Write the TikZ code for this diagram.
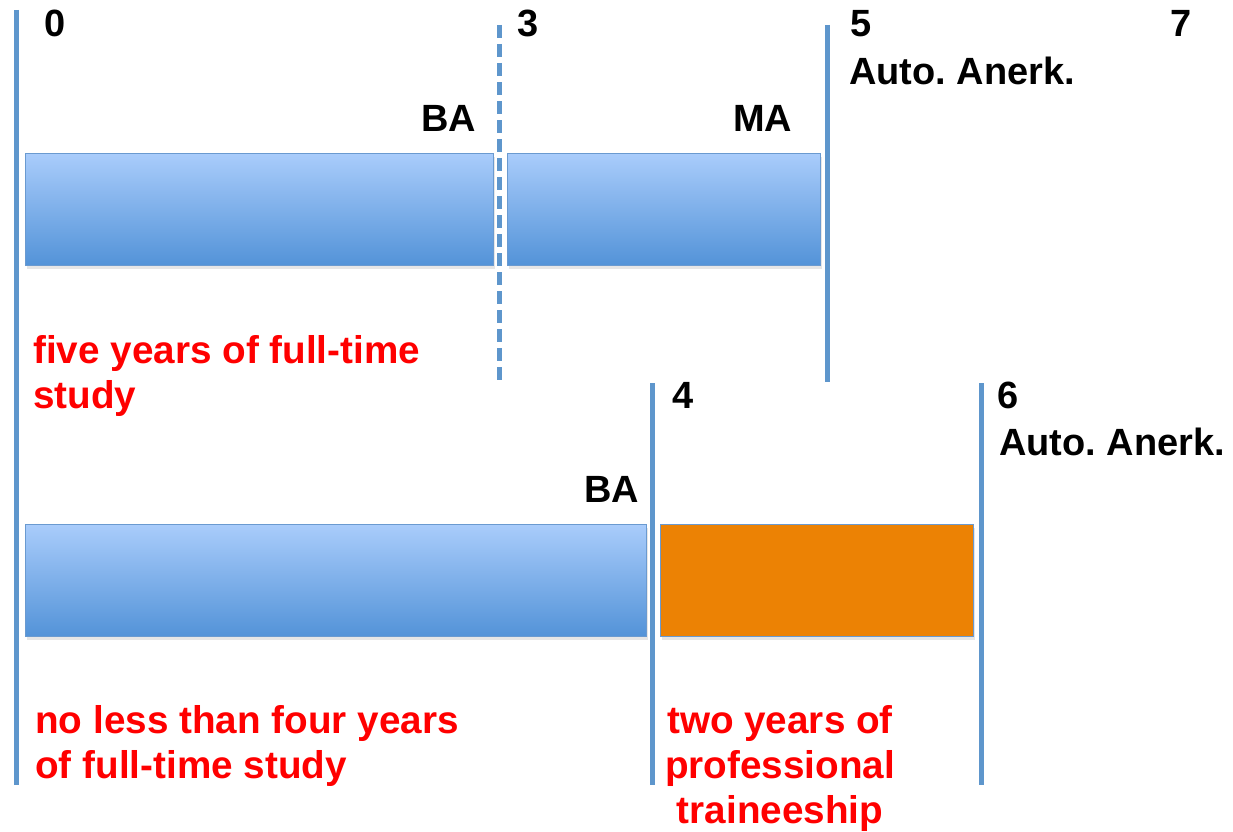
\documentclass[tikz,border=0pt]{standalone}
\usepackage{fontspec}
\setmainfont{Liberation Sans}
\usetikzlibrary{shadows}
\frenchspacing
\definecolor{lineblue}{HTML}{5E96CC}
\definecolor{bartop}{HTML}{A9CCFB}
\definecolor{barbottom}{HTML}{5393D8}
\definecolor{barorange}{HTML}{EC8204}
\definecolor{barborder}{HTML}{6A9AD0}
\definecolor{notered}{HTML}{FF0000}
\tikzstyle{yearline} = [draw=lineblue, line width=1mm]
\tikzstyle{bluebar} = [rectangle, anchor=north west, minimum height=22.4mm, inner sep=0pt, draw=barborder, line width=0.6pt, top color=bartop, bottom color=barbottom, drop shadow={shadow xshift=0.3mm, shadow yshift=-0.6mm, opacity=0.2}]
\tikzstyle{orangebar} = [rectangle, anchor=north west, minimum height=22.4mm, inner sep=0pt, draw=barborder, line width=0.6pt, fill=barorange, drop shadow={shadow xshift=0.3mm, shadow yshift=-0.6mm, opacity=0.2}]
\tikzstyle{year} = [anchor=base west, inner sep=0pt, font=\fontsize{21.6}{25.6}\selectfont\bfseries]
\tikzstyle{note} = [anchor=north west, inner sep=0pt, text=notered, align=left, font=\fontsize{22}{25.6}\selectfont\bfseries]

\begin{document}
\begin{tikzpicture}[x=0.2mm, y=-0.2mm]
\useasboundingbox (0,0) rectangle (1233,831);

%---------------------------------BARS
\node (ba5) [bluebar, minimum width=93.6mm] at (25,153) {};
\node (ma5) [bluebar, minimum width=62.6mm] at (507,153) {};
\node (ba4) [bluebar, minimum width=124.2mm] at (25,524) {};
\node (train) [orangebar, minimum width=62.6mm] at (660,524) {};

%---------------------------------LINES
\coordinate (l0top) at (16,10);
\coordinate (l0bot) at (16,785);
\coordinate (l3top) at (499,25);
\coordinate (l3bot) at (499,383);
\coordinate (l5top) at (827,25);
\coordinate (l5bot) at (827,382);
\coordinate (l4top) at (652,383);
\coordinate (l4bot) at (652,785);
\coordinate (l6top) at (981,383);
\coordinate (l6bot) at (981,785);
\draw [yearline] (l0top) -- (l0bot);
\draw [yearline, dash pattern=on 2.6mm off 1.2mm] (l3top) -- (l3bot);
\draw [yearline] (l5top) -- (l5bot);
\draw [yearline] (l4top) -- (l4bot);
\draw [yearline] (l6top) -- (l6bot);

%---------------------------------LABELS
\node (y0) [year] at (44,37) {0};
\node (y3) [year] at (517,37) {3};
\node (y5) [year] at (850,37) {5};
\node (y7) [year] at (1170,37) {7};
\node (auto5) [year] at (849,85) {Auto. Anerk.};
\node (lba5) [year] at (421,132) {BA};
\node (lma5) [year] at (733,132) {MA};
\node (y4) [year] at (672,408) {4};
\node (y6) [year] at (997,408) {6};
\node (auto6) [year] at (999,455) {Auto. Anerk.};
\node (lba4) [year] at (584,502) {BA};

\node (note5) [note] at (33,335) {five years of full-time\\study};
\node (note4) [note] at (35,705) {no less than four years\\of full-time study};
\node (note2) [note, align=center, anchor=north] at (780,705) {two years of\\professional\\traineeship};

\end{tikzpicture}
\end{document}
